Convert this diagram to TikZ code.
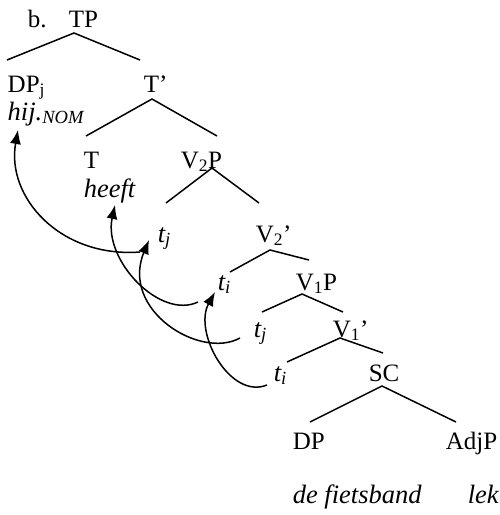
\documentclass[tikz,border=0pt]{standalone}
\usepackage{fontspec}
\setmainfont{Liberation Serif}[ItalicFont=Liberation Serif Italic]
\usetikzlibrary{arrows.meta}
\begin{document}
\begin{tikzpicture}[x=1pt,y=-1pt,line width=1.5pt,
	lab/.style = {anchor=base west, inner sep=0pt, font=\fontsize{25}{30}\selectfont},
	word/.style = {lab, font=\fontsize{26.5}{30}\selectfont\itshape},
	move/.style = {-{Latex[length=14pt,width=11pt]}}]
	\useasboundingbox (0,0) rectangle (500,515);
	
	\node[lab] (b) at (27,27) {b.};
	\node[lab] (tp) at (68,27) {TP};
	\node[lab] (dpj) at (7,92) {DP\textsubscript{j}};
	\node[word] (hij) at (7,120) {hij.\textsubscript{NOM}};
	\node[lab] (tbar) at (143,92) {T’};
	\node[lab] (t) at (83,168) {T};
	\node[word] (heeft) at (83,197) {heeft};
	\node[lab] (vtwop) at (180,168) {V\textsubscript{2}P};
	\node[word] (tj1) at (157,242) {t\textsubscript{j}};
	\node[lab] (vtwobar) at (255,242) {V\textsubscript{2}’};
	\node[word] (ti1) at (217,290) {t\textsubscript{i}};
	\node[lab] (vonep) at (295,290) {V\textsubscript{1}P};
	\node[word] (tj2) at (253,337) {t\textsubscript{j}};
	\node[lab] (vonebar) at (332,337) {V\textsubscript{1}’};
	\node[word] (ti2) at (273,381) {t\textsubscript{i}};
	\node[lab] (sc) at (368,381) {SC};
	\node[lab] (dp) at (292,449) {DP};
	\node[lab] (adjp) at (445,449) {AdjP};
	\node[word] (fiets) at (292,503) {de f{}ietsband};
	\node[word] (lek) at (467,503) {lek};
	
	% branches
	\draw ([shift={(0,-32)}]dpj.base west) -- ([shift={(6,6)}]tp.base west) -- ([shift={(-3,-32)}]tbar.base west);
	\draw ([shift={(3,-32)}]t.base west) -- ([shift={(9,7)}]tbar.base west) -- ([shift={(37,-32)}]vtwop.base west);
	\draw ([shift={(9,-39)}]tj1.base west) -- ([shift={(32,0)}]vtwop.base west) -- ([shift={(4,-39)}]vtwobar.base west);
	\draw ([shift={(13,-18)}]ti1.base west) -- ([shift={(15,8)}]vtwobar.base west) -- ([shift={(14,-30)}]vonep.base west);
	\draw ([shift={(9,-25)}]tj2.base west) -- ([shift={(7,4)}]vonep.base west) -- ([shift={(11,-25)}]vonebar.base west);
	\draw ([shift={(14,-19)}]ti2.base west) -- ([shift={(8,1)}]vonebar.base west) -- ([shift={(15,-28)}]sc.base west);
	\draw ([shift={(18,-27)}]dp.base west) -- ([shift={(14,5)}]sc.base west) -- ([shift={(11,-27)}]adjp.base west);
	
	% movement
	\draw[move] ([shift={(-17,10)}]tj1.base west) .. controls +(-80,6) and +(-12,67) .. ([shift={(11,10)}]hij.base west);
	\draw[move] ([shift={(-13,1)}]tj2.base west) .. controls +(-40,22) and +(-29,70) .. ([shift={(-8,-2)}]tj1.base west);
	\draw[move] ([shift={(-19,12)}]ti1.base west) .. controls +(-38,18) and +(-12,55) .. ([shift={(32,8)}]heeft.base west);
	\draw[move] ([shift={(-6,4)}]ti2.base west) .. controls +(-37,15) and +(-22,40) .. ([shift={(-2,2)}]ti1.base west);
\end{tikzpicture}
\end{document}
